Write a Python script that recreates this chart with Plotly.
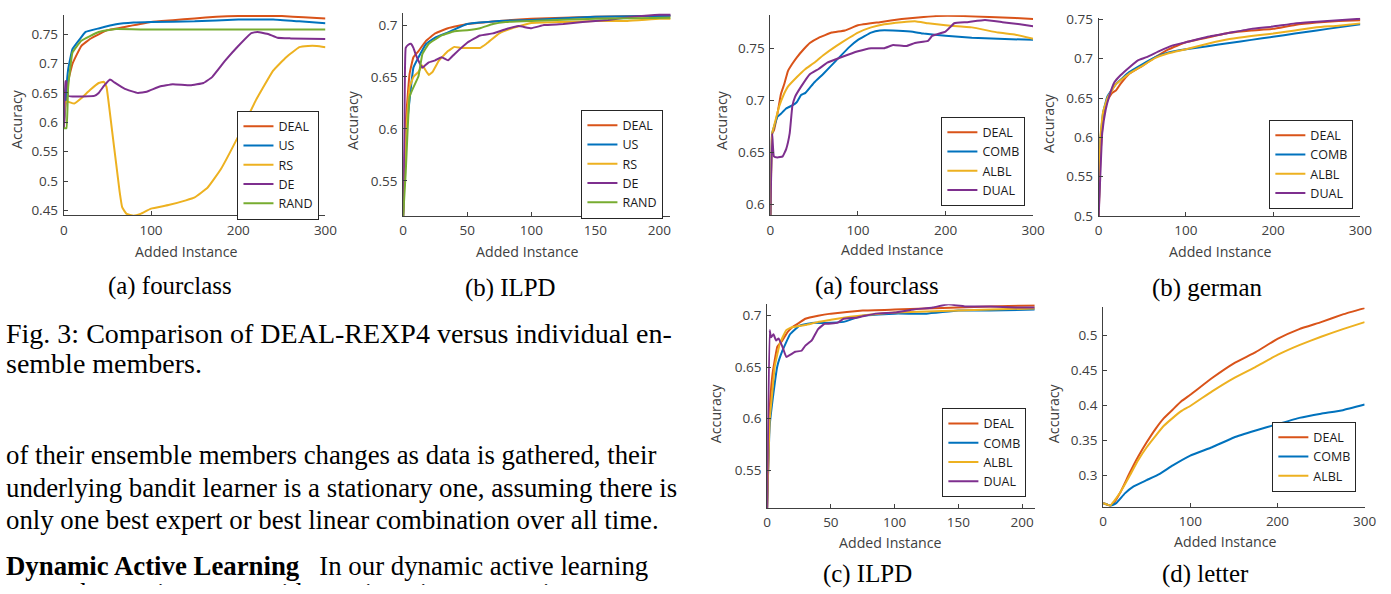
import plotly.graph_objects as go

W, H = 1391, 594

# ---------------- data ----------------
# Fig.3 (a) fourclass
f3a_x_deal = [0, 2, 5, 10, 20, 30, 40, 50, 75, 100, 125, 150, 175, 200, 250, 275, 300]
f3a_deal = [0.59, 0.63, 0.67, 0.70, 0.730, 0.742, 0.750, 0.757, 0.764, 0.771, 0.774, 0.777, 0.780, 0.781, 0.781, 0.779, 0.777]
f3a_x_us = [0, 2, 5, 10, 20, 25, 40, 60, 80, 100, 150, 200, 240, 270, 300]
f3a_us = [0.59, 0.64, 0.69, 0.725, 0.745, 0.754, 0.760, 0.767, 0.770, 0.771, 0.772, 0.775, 0.775, 0.772, 0.769]
f3a_x_rs = [0, 2, 5, 12, 20, 30, 40, 46, 49, 55, 60, 64, 67, 72, 80, 88, 100, 120, 140, 150, 165, 180, 200, 220, 240, 255, 270, 280, 290, 300]
f3a_rs = [0.59, 0.635, 0.635, 0.632, 0.641, 0.655, 0.667, 0.669, 0.660, 0.590, 0.530, 0.482, 0.455, 0.444, 0.441, 0.444, 0.453, 0.459, 0.467, 0.472, 0.489, 0.520, 0.576, 0.637, 0.688, 0.711, 0.728, 0.730, 0.730, 0.728]
f3a_x_de = [0, 2, 3, 5, 10, 35, 40, 46, 53, 58, 70, 85, 95, 110, 125, 145, 160, 170, 185, 200, 215, 222, 235, 245, 260, 300]
f3a_de = [0.59, 0.67, 0.67, 0.645, 0.644, 0.645, 0.650, 0.662, 0.673, 0.668, 0.657, 0.650, 0.652, 0.661, 0.665, 0.663, 0.667, 0.677, 0.705, 0.730, 0.752, 0.754, 0.750, 0.744, 0.743, 0.742]
f3a_x_rand = [0, 3, 5, 10, 20, 30, 40, 50, 60, 100, 200, 300]
f3a_rand = [0.59, 0.59, 0.66, 0.719, 0.739, 0.747, 0.754, 0.757, 0.759, 0.758, 0.758, 0.758]

# Fig.3 (b) ILPD
f3b_x_deal = [0, 2, 5, 8, 12, 18, 25, 35, 50, 75, 100, 150, 200, 209]
f3b_deal = [0.516, 0.6055, 0.653, 0.669, 0.675, 0.685, 0.692, 0.697, 0.701, 0.704, 0.706, 0.708, 0.709, 0.709]
f3b_x_us = [0, 2, 5, 8, 12, 18, 25, 35, 50, 75, 100, 150, 209]
f3b_us = [0.516, 0.59, 0.628, 0.659, 0.669, 0.682, 0.688, 0.693, 0.701, 0.704, 0.705, 0.708, 0.709]
f3b_x_rs = [0, 2, 5, 8, 12, 15, 20, 23, 28, 35, 40, 45, 60, 65, 75, 85, 100, 125, 150, 175, 200, 209]
f3b_rs = [0.516, 0.59, 0.640, 0.650, 0.655, 0.661, 0.652, 0.655, 0.666, 0.675, 0.679, 0.678, 0.678, 0.682, 0.692, 0.697, 0.702, 0.703, 0.704, 0.704, 0.706, 0.706]
f3b_x_de = [0, 1, 2, 4, 6, 8, 10, 13, 15, 17, 20, 25, 30, 35, 40, 50, 60, 70, 80, 90, 100, 110, 125, 140, 160, 180, 200, 209]
f3b_de = [0.516, 0.60, 0.678, 0.681, 0.682, 0.678, 0.671, 0.663, 0.659, 0.661, 0.664, 0.666, 0.669, 0.666, 0.672, 0.683, 0.690, 0.692, 0.696, 0.699, 0.697, 0.700, 0.701, 0.703, 0.705, 0.708, 0.710, 0.710]
f3b_x_rand = [0, 2, 5, 8, 12, 15, 20, 30, 40, 50, 60, 70, 80, 100, 150, 209]
f3b_rand = [0.516, 0.558, 0.631, 0.640, 0.651, 0.672, 0.682, 0.690, 0.694, 0.695, 0.697, 0.701, 0.703, 0.704, 0.706, 0.707]

# Fig.4 (a) fourclass
f4a_x_deal = [0, 2, 4, 8, 12, 16, 20, 25, 30, 38, 45, 55, 70, 85, 100, 125, 150, 175, 190, 220, 250, 280, 300]
f4a_deal = [0.589, 0.668, 0.671, 0.687, 0.706, 0.716, 0.728, 0.735, 0.741, 0.749, 0.755, 0.760, 0.765, 0.767, 0.772, 0.775, 0.778, 0.780, 0.781, 0.781, 0.780, 0.779, 0.778]
f4a_x_comb = [0, 2, 8, 12, 18, 25, 30, 35, 40, 50, 60, 75, 90, 100, 115, 125, 140, 160, 175, 200, 230, 260, 300]
f4a_comb = [0.589, 0.668, 0.684, 0.687, 0.692, 0.695, 0.698, 0.705, 0.707, 0.717, 0.725, 0.738, 0.751, 0.758, 0.765, 0.767, 0.767, 0.766, 0.764, 0.762, 0.760, 0.759, 0.758]
f4a_x_albl = [0, 2, 5, 10, 15, 20, 30, 40, 50, 60, 75, 90, 100, 115, 130, 150, 165, 180, 200, 230, 260, 280, 300]
f4a_albl = [0.589, 0.668, 0.678, 0.694, 0.705, 0.713, 0.722, 0.730, 0.736, 0.743, 0.752, 0.760, 0.765, 0.770, 0.773, 0.775, 0.776, 0.774, 0.772, 0.770, 0.765, 0.763, 0.759]
f4a_x_dual = [0, 2, 4, 8, 14, 18, 22, 25, 28, 35, 45, 55, 65, 80, 100, 115, 130, 140, 155, 165, 180, 185, 200, 205, 210, 225, 245, 265, 285, 300]
f4a_dual = [0.589, 0.668, 0.646, 0.645, 0.646, 0.653, 0.668, 0.694, 0.703, 0.713, 0.725, 0.730, 0.736, 0.741, 0.747, 0.750, 0.750, 0.753, 0.752, 0.755, 0.757, 0.762, 0.766, 0.770, 0.774, 0.775, 0.777, 0.775, 0.773, 0.771]

# Fig.4 (b) german
f4b_x_deal = [0, 2, 4, 6, 10, 15, 20, 25, 35, 50, 65, 80, 100, 125, 150, 175, 200, 225, 250, 275, 300]
f4b_deal = [0.5, 0.576, 0.610, 0.631, 0.647, 0.656, 0.660, 0.668, 0.681, 0.691, 0.702, 0.712, 0.721, 0.727, 0.733, 0.736, 0.738, 0.743, 0.746, 0.748, 0.749]
f4b_x_comb = [0, 2, 5, 10, 20, 35, 50, 65, 80, 100, 125, 150, 175, 200, 225, 250, 275, 300]
f4b_comb = [0.5, 0.597, 0.631, 0.652, 0.668, 0.683, 0.693, 0.702, 0.708, 0.712, 0.716, 0.720, 0.724, 0.728, 0.732, 0.736, 0.740, 0.744]
f4b_x_albl = [0, 2, 5, 10, 20, 35, 50, 65, 80, 100, 125, 150, 175, 200, 225, 250, 275, 300]
f4b_albl = [0.5, 0.601, 0.632, 0.650, 0.668, 0.681, 0.691, 0.701, 0.707, 0.712, 0.719, 0.725, 0.729, 0.732, 0.736, 0.740, 0.742, 0.745]
f4b_x_dual = [0, 2, 4, 8, 12, 18, 25, 35, 45, 55, 70, 85, 100, 125, 150, 175, 200, 225, 250, 275, 300]
f4b_dual = [0.5, 0.555, 0.605, 0.635, 0.652, 0.670, 0.679, 0.689, 0.698, 0.702, 0.710, 0.717, 0.721, 0.728, 0.733, 0.738, 0.741, 0.745, 0.747, 0.749, 0.751]

# Fig.4 (c) ILPD
f4c_x_deal = [0, 2, 4, 6, 8, 12, 16, 20, 25, 30, 40, 50, 75, 100, 125, 150, 175, 210]
f4c_deal = [0.513, 0.609, 0.641, 0.657, 0.670, 0.676, 0.684, 0.689, 0.693, 0.697, 0.700, 0.702, 0.705, 0.706, 0.707, 0.708, 0.709, 0.710]
f4c_x_comb = [0, 2, 5, 8, 12, 18, 25, 35, 45, 60, 75, 100, 125, 150, 175, 210]
f4c_comb = [0.513, 0.593, 0.625, 0.651, 0.666, 0.682, 0.690, 0.693, 0.693, 0.694, 0.700, 0.702, 0.702, 0.705, 0.705, 0.706]
f4c_x_albl = [0, 2, 4, 6, 10, 15, 20, 30, 40, 50, 65, 80, 100, 125, 150, 175, 210]
f4c_albl = [0.513, 0.599, 0.625, 0.651, 0.673, 0.686, 0.689, 0.691, 0.694, 0.696, 0.699, 0.701, 0.703, 0.704, 0.705, 0.706, 0.707]
f4c_x_dual = [0, 2, 3, 5, 7, 9, 12, 15, 18, 22, 27, 30, 35, 40, 45, 55, 60, 70, 85, 100, 115, 130, 142, 155, 175, 195, 210]
f4c_dual = [0.513, 0.686, 0.679, 0.682, 0.676, 0.678, 0.670, 0.660, 0.662, 0.665, 0.666, 0.671, 0.676, 0.687, 0.692, 0.693, 0.697, 0.698, 0.702, 0.703, 0.706, 0.708, 0.711, 0.709, 0.709, 0.708, 0.708]

# Fig.4 (d) letter
f4d_x_deal = [0, 5, 8, 12, 20, 30, 40, 50, 60, 70, 80, 90, 100, 125, 150, 175, 200, 225, 250, 275, 300]
f4d_deal = [0.260, 0.258, 0.256, 0.260, 0.276, 0.302, 0.326, 0.347, 0.366, 0.382, 0.394, 0.406, 0.415, 0.439, 0.460, 0.476, 0.495, 0.509, 0.519, 0.530, 0.539]
f4d_x_comb = [0, 5, 8, 15, 25, 35, 50, 65, 80, 100, 125, 150, 175, 200, 225, 250, 275, 300]
f4d_comb = [0.260, 0.258, 0.256, 0.260, 0.274, 0.284, 0.293, 0.302, 0.314, 0.328, 0.340, 0.354, 0.364, 0.373, 0.382, 0.388, 0.393, 0.401]
f4d_x_albl = [0, 5, 8, 12, 20, 30, 40, 50, 60, 70, 80, 90, 100, 125, 150, 175, 200, 225, 250, 275, 300]
f4d_albl = [0.260, 0.258, 0.256, 0.262, 0.276, 0.298, 0.321, 0.340, 0.356, 0.371, 0.382, 0.392, 0.399, 0.420, 0.439, 0.455, 0.472, 0.486, 0.498, 0.509, 0.519]

ticks_x300 = [0, 100, 200, 300]
ticks_x200 = [0, 50, 100, 150, 200]
ticks_y1 = [0.45, 0.5, 0.55, 0.6, 0.65, 0.7, 0.75]
ticks_y2 = [0.55, 0.6, 0.65, 0.7]
ticks_y3 = [0.6, 0.65, 0.7, 0.75]
ticks_y4 = [0.5, 0.55, 0.6, 0.65, 0.7, 0.75]
ticks_y6 = [0.3, 0.35, 0.4, 0.45, 0.5]

sub_captions = ["(a) fourclass", "(b) ILPD", "(a) fourclass", "(b) german", "(c) ILPD", "(d) letter"]
caption_lines = ["Fig. 3: Comparison of DEAL-REXP4 versus individual en-", "semble members."]
body_lines = [
    "of their ensemble members changes as data is gathered, their",
    "underlying bandit learner is a stationary one, assuming there is",
    "only one best expert or best linear combination over all time.",
    "<b>Dynamic Active Learning</b>   In our dynamic active learning",
]
cut_line = "research question, we avoid a stationarity assumption on"

# ---------------- styling ----------------
RED, BLUE, YEL, PUR, GRN = '#D95319', '#0072BD', '#EDB120', '#7E2F8E', '#77AC30'
SANS = 'Open Sans'
SERIF = 'Liberation Serif'
AX = '#404040'
FS = 13.5
TFS = 14.2
LFS = 12.5

# the photographed page comes out slightly shrunk; positions are placed to land on the target pixels
SX, OX, SY = 0.9886, 3.5, 0.984


def px_x(t):
    return (t - OX) / SX


def px_y(t):
    return t / SY


def fx(t):
    return px_x(t) / W


def fy(t, cap=None):
    p = px_y(t)
    if cap is not None:
        p = min(p, cap)
    return 1 - p / H


# panel: (x0, x1, ytop, ybottom target px), xrange, yrange, xticks, yticks, legend right/top, xtitle, ytitle
panels = [
    (63.3, 325.0, 7.0, 210.0, [0, 300], [0.4416, 0.783], ticks_x300, ticks_y1, (319, 104), (186, 247), (16, 112)),
    (402.7, 670.0, 5.0, 211.0, [0, 208.6], [0.5158, 0.7117], ticks_x200, ticks_y2, (663, 103), (527, 247), (352, 113)),
    (770.0, 1032.7, 7.3, 210.0, [0, 300], [0.5893, 0.7817], ticks_x300, ticks_y3, (1025, 110), (892, 245), (721, 113)),
    (1098.3, 1360.0, 10.0, 210.7, [0, 300], [0.5, 0.752], ticks_x300, ticks_y4, (1353, 113), (1220, 247), (1048, 116)),
    (766.7, 1034.3, 300.0, 506.7, [0, 209.9], [0.5132, 0.7112], ticks_x200, ticks_y2, (1026, 405), (890, 541), (715, 410)),
    (1102.7, 1364.3, 303.3, 505.0, [0, 300], [0.2552, 0.540], ticks_x300, ticks_y6, (1356, 419), (1225, 540), (1053, 410)),
]

series = [
    [("DEAL", f3a_x_deal, f3a_deal, RED), ("US", f3a_x_us, f3a_us, BLUE), ("RS", f3a_x_rs, f3a_rs, YEL),
     ("DE", f3a_x_de, f3a_de, PUR), ("RAND", f3a_x_rand, f3a_rand, GRN)],
    [("DEAL", f3b_x_deal, f3b_deal, RED), ("US", f3b_x_us, f3b_us, BLUE), ("RS", f3b_x_rs, f3b_rs, YEL),
     ("DE", f3b_x_de, f3b_de, PUR), ("RAND", f3b_x_rand, f3b_rand, GRN)],
    [("DEAL", f4a_x_deal, f4a_deal, RED), ("COMB", f4a_x_comb, f4a_comb, BLUE), ("ALBL", f4a_x_albl, f4a_albl, YEL),
     ("DUAL", f4a_x_dual, f4a_dual, PUR)],
    [("DEAL", f4b_x_deal, f4b_deal, RED), ("COMB", f4b_x_comb, f4b_comb, BLUE), ("ALBL", f4b_x_albl, f4b_albl, YEL),
     ("DUAL", f4b_x_dual, f4b_dual, PUR)],
    [("DEAL", f4c_x_deal, f4c_deal, RED), ("COMB", f4c_x_comb, f4c_comb, BLUE), ("ALBL", f4c_x_albl, f4c_albl, YEL),
     ("DUAL", f4c_x_dual, f4c_dual, PUR)],
    [("DEAL", f4d_x_deal, f4d_deal, RED), ("COMB", f4d_x_comb, f4d_comb, BLUE), ("ALBL", f4d_x_albl, f4d_albl, YEL)],
]


def fmt(v):
    return ('%.2f' % v).rstrip('0').rstrip('.')


fig = go.Figure()
layout = dict(width=W, height=H, margin=dict(l=0, r=0, t=0, b=0),
              paper_bgcolor='white', plot_bgcolor='white', showlegend=True,
              font=dict(family=SANS, size=FS, color=AX))
annotations = []

for i, (p, ser) in enumerate(zip(panels, series)):
    x0, x1, yt, yb, xr, yr, xt, ytk, lg, xtl, ytl = p
    k = '' if i == 0 else str(i + 1)
    leg = 'legend' + k
    for name, xs, ys, col in ser:
        fig.add_trace(go.Scatter(x=xs, y=ys, name=name, mode='lines',
                                 line=dict(color=col, width=2, shape='spline', smoothing=0.3),
                                 xaxis='x' + k, yaxis='y' + k, legend=leg))
    axcommon = dict(showline=True, linecolor=AX, linewidth=1, ticks='inside', ticklen=4,
                    tickcolor=AX, tickwidth=1, showgrid=False, zeroline=False,
                    tickfont=dict(family=SANS, size=FS, color=AX), fixedrange=True,
                    ticklabeloverflow='allow', ticklabelstandoff=2)
    layout['xaxis' + k] = dict(domain=[fx(x0), min(1, fx(x1))], range=xr, tickvals=xt,
                               ticktext=[str(v) for v in xt], anchor='y' + k, **axcommon)
    layout['yaxis' + k] = dict(domain=[max(0, fy(yb)), min(1, fy(yt))], range=yr, tickvals=ytk,
                               ticktext=[fmt(v) for v in ytk], anchor='x' + k, **axcommon)
    layout[leg] = dict(x=fx(lg[0]), y=fy(lg[1]), xanchor='right', yanchor='top',
                       bgcolor='white', bordercolor='#262626', borderwidth=1,
                       font=dict(family=SANS, size=LFS, color='#1a1a1a'),
                       tracegroupgap=0, itemwidth=30)
    annotations.append(dict(text='Added Instance', x=fx(xtl[0]), y=fy(xtl[1]), xref='paper', yref='paper',
                            showarrow=False, xanchor='center', yanchor='middle',
                            font=dict(family=SANS, size=TFS, color=AX)))
    annotations.append(dict(text='Accuracy', x=fx(ytl[0]), y=fy(ytl[1]), xref='paper', yref='paper',
                            showarrow=False, xanchor='center', yanchor='middle', textangle=-90,
                            font=dict(family=SANS, size=TFS, color=AX)))

# sub-figure captions
cap_pos = [(170, 282), (510, 284), (877, 282), (1207, 284), (867, 578), (1205, 576)]
for txt, (cx, cy) in zip(sub_captions, cap_pos):
    annotations.append(dict(text=txt, x=fx(cx), y=fy(cy, cap=H - 11), xref='paper', yref='paper',
                            showarrow=False, xanchor='center', yanchor='middle',
                            font=dict(family=SERIF, size=24.9, color='black')))

for txt, cy in zip(caption_lines, [330, 360]):
    annotations.append(dict(text=txt, x=fx(4), y=fy(cy), xref='paper', yref='paper', showarrow=False,
                            xanchor='left', yanchor='middle',
                            font=dict(family=SERIF, size=28, color='black')))

for txt, cy in zip(body_lines, [453, 486, 519, 565]):
    annotations.append(dict(text=txt, x=fx(4), y=fy(cy), xref='paper', yref='paper', showarrow=False,
                            xanchor='left', yanchor='middle',
                            font=dict(family=SERIF, size=26.8, color='black')))

# last paragraph line, cut by the bottom of the page: drawn in a hidden strip that clips it
fig.add_trace(go.Scatter(x=[px_x(4)], y=[H - 605], mode='text', text=[cut_line], textposition='middle right',
                         textfont=dict(family=SERIF, size=26.8, color='black'), cliponaxis=True,
                         showlegend=False, hoverinfo='skip', xaxis='x7', yaxis='y7'))
layout['xaxis7'] = dict(domain=[0, 720 / W], range=[0, 720], visible=False, fixedrange=True)
layout['yaxis7'] = dict(domain=[0, 30 / H], range=[0, 30], visible=False, fixedrange=True)

layout['annotations'] = annotations
fig.update_layout(**layout)
fig.write_html(
    "out.html",
    config={'displayModeBar': False},
    post_script=("document.documentElement.style.margin='0';document.body.style.margin='0';"
                 "document.documentElement.style.overflow='hidden';document.body.style.overflow='hidden';"),
)
